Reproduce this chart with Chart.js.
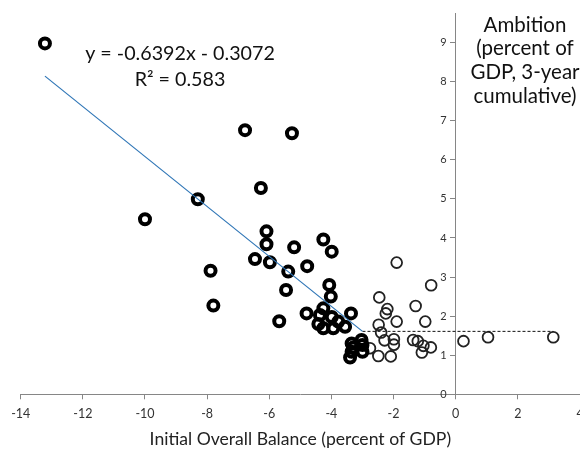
<!DOCTYPE html>
<html>
<head>
<meta charset="utf-8">
<script src="https://cdn.jsdelivr.net/npm/chart.js@4.4.1/dist/chart.umd.min.js"></script>
<style>
  html, body { margin: 0; padding: 0; background: #fff; }
  canvas { display: block; }
</style>
</head>
<body>
<canvas id="chart" width="580" height="452"></canvas>
<script>
// Economies starting with an overall deficit of 3% of GDP or more (fitted group)
const deficitBalance = [-13.22, -6.78, -5.27, -6.27, -8.30, -10.00, -6.09, -6.09, -5.20, -6.46,
  -5.98, -5.39, -4.78, -7.89, -5.46, -7.80, -5.68, -4.26, -3.99, -4.07,
  -4.02, -4.26, -4.80, -3.37, -4.37, -3.99, -3.78, -4.42, -3.56, -4.26,
  -3.94, -3.35, -3.03, -3.00, -3.35, -3.00, -3.40, -3.30];
const deficitAmbition = [8.98, 6.76, 6.68, 5.28, 4.99, 4.48, 4.17, 3.84, 3.76, 3.46,
  3.38, 3.14, 3.28, 3.16, 2.67, 2.27, 1.87, 3.96, 3.65, 2.80,
  2.50, 2.20, 2.07, 2.07, 2.03, 1.98, 1.86, 1.80, 1.73, 1.69,
  1.69, 1.30, 1.39, 1.26, 1.09, 1.09, 0.94, 1.20];

// Economies starting from a smaller deficit or a surplus
const otherBalance = [-2.46, -1.90, -0.79, -2.20, -2.25, -1.90, -1.29, -0.98, -2.48, -2.40,
  -2.29, -1.99, -1.99, -2.49, -2.09, -1.37, -1.22, -1.04, -1.09, -0.80,
  0.25, 1.04, 3.14, -2.76];
const otherAmbition = [2.48, 3.37, 2.79, 2.18, 2.07, 1.86, 2.26, 1.86, 1.78, 1.58,
  1.38, 1.41, 1.27, 0.98, 0.97, 1.39, 1.36, 1.24, 1.07, 1.20,
  1.36, 1.46, 1.46, 1.18];

// Linear fit of the deficit group
const trendSlope = -0.6392;
const trendIntercept = -0.3072;
const trendR2 = '0.583';
const deficitThreshold = -3;

// Axis ranges and tick steps
const xRange = [-14, 4];
const xStep = 2;
const yRange = [0, 9.75];
const yStep = 1;

const yTitleLines = ['Ambition', '(percent of', 'GDP, 3-year', 'cumulative)'];
const xTitle = 'Initial Overall Balance (percent of GDP)';

const toPoints = (xs, ys) => xs.map((x, i) => ({ x, y: ys[i] }));
const fit = x => trendSlope * x + trendIntercept;
const fitStart = Math.min(...deficitBalance);
const flatEnd = Math.max(...otherBalance);

const equationText = 'y = ' + trendSlope.toFixed(4) + 'x ' +
  (trendIntercept < 0 ? '- ' : '+ ') + Math.abs(trendIntercept).toFixed(4);

const FONT = 'Lato, "Open Sans", sans-serif';
const AXIS_GREY = '#868686';
const TICK_COLOR = '#333';

// Vertical-axis tick labels sit a little to the left of the crossing axis
const yLabelPlugin = {
  id: 'yLabels',
  afterDraw(chart) {
    const ctx = chart.ctx;
    const y = chart.scales.y;
    const axisX = chart.scales.x.getPixelForValue(0);
    ctx.save();
    ctx.fillStyle = TICK_COLOR;
    ctx.font = '11px ' + FONT;
    ctx.textAlign = 'right';
    ctx.textBaseline = 'middle';
    y.ticks.forEach(t => ctx.fillText(String(t.value), axisX - 9, y.getPixelForValue(t.value)));
    ctx.restore();
  }
};

// Equation box and the vertical-axis caption drawn as free text
const textPlugin = {
  id: 'freeText',
  afterDraw(chart) {
    const ctx = chart.ctx;
    ctx.save();
    ctx.fillStyle = '#111';
    ctx.textAlign = 'center';
    ctx.textBaseline = 'middle';
    ctx.font = '19.7px ' + FONT;
    ctx.fillText(equationText, 180, 54);
    ctx.fillText('R\u00B2 = ' + trendR2, 180, 80);
    ctx.font = '20.5px ' + FONT;
    yTitleLines.forEach((line, i) => ctx.fillText(line, 525, 25 + i * 23.8));
    ctx.restore();
  }
};

new Chart(document.getElementById('chart'), {
  type: 'scatter',
  data: {
    datasets: [
      {
        type: 'line',
        data: [{ x: fitStart, y: fit(fitStart) }, { x: deficitThreshold, y: fit(deficitThreshold) }],
        borderColor: '#2e75b6',
        borderWidth: 1.2,
        pointRadius: 0,
        fill: false,
        order: 0
      },
      {
        type: 'line',
        data: [{ x: deficitThreshold, y: fit(deficitThreshold) }, { x: flatEnd, y: fit(deficitThreshold) }],
        borderColor: '#111',
        borderWidth: 1,
        borderDash: [3, 2],
        pointRadius: 0,
        fill: false,
        order: 0
      },
      {
        data: toPoints(deficitBalance, deficitAmbition),
        pointStyle: 'circle',
        pointRadius: 5,
        pointBorderWidth: 4,
        pointBorderColor: '#000',
        pointBackgroundColor: 'rgba(0,0,0,0)',
        order: 1
      },
      {
        data: toPoints(otherBalance, otherAmbition),
        pointStyle: 'circle',
        pointRadius: 5.4,
        pointBorderWidth: 1.8,
        pointBorderColor: '#222',
        pointBackgroundColor: 'rgba(0,0,0,0)',
        order: 1
      }
    ]
  },
  options: {
    responsive: false,
    animation: false,
    events: [],
    layout: { autoPadding: false, padding: { left: 20.7, right: 0, top: 13.3, bottom: 0 } },
    plugins: { legend: { display: false }, tooltip: { enabled: false } },
    scales: {
      x: {
        type: 'linear',
        position: 'bottom',
        min: xRange[0],
        max: xRange[1],
        ticks: { stepSize: xStep, color: TICK_COLOR, font: { family: FONT, size: 12.5 }, padding: 7.5 },
        grid: { drawOnChartArea: false, drawTicks: true, tickLength: 5, color: AXIS_GREY },
        border: { display: true, color: AXIS_GREY, width: 1 },
        title: { display: true, text: xTitle, color: '#222', font: { family: FONT, size: 17.6 }, padding: { top: 0, bottom: 2 } },
        afterFit(scale) { scale.paddingRight = 0; scale.height = 57.7; }
      },
      y: {
        type: 'linear',
        position: { x: 0 },
        min: yRange[0],
        max: yRange[1],
        ticks: { stepSize: yStep, includeBounds: false, display: false },
        grid: { drawOnChartArea: false, drawTicks: true, tickLength: 5, color: AXIS_GREY },
        border: { display: true, color: AXIS_GREY, width: 1 }
      }
    }
  },
  plugins: [yLabelPlugin, textPlugin]
});
</script>
</body>
</html>
